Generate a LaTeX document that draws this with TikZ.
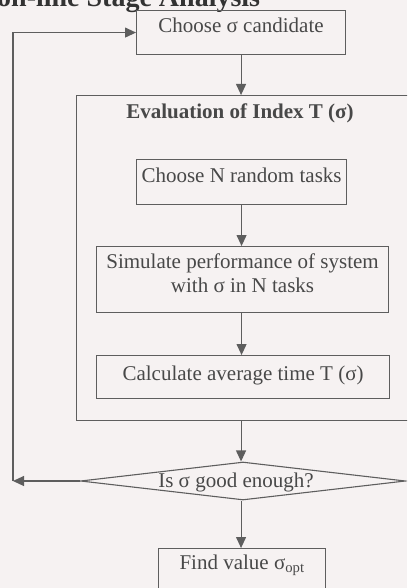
\documentclass[tikz,border=0pt]{standalone}
\usepackage{fontspec}
\setmainfont{Liberation Serif}
\usetikzlibrary{shapes.geometric,arrows.meta}
\definecolor{bg}{HTML}{F6F2F2}
\definecolor{ln}{HTML}{5E5E5E}
\definecolor{tx}{HTML}{484848}
\begin{document}
\begin{tikzpicture}[x=1pt,y=-1pt,
  box/.style={draw=ln, line width=1.1pt, text=tx, inner xsep=0pt, inner ysep=0pt,
    font=\fontsize{21}{24}\selectfont, align=center, anchor=north west},
  lbl/.style={text=tx, font=\fontsize{21}{24}\selectfont, inner sep=0pt},
  arr/.style={-{Triangle[length=11pt,width=10pt]}, draw=ln, line width=1.1pt}]
\useasboundingbox (0,0) rectangle (407,588);
\clip (0,0) rectangle (407,588);
\fill[bg] (0,0) rectangle (407,588);
% heading (cut off at the top, as in the scan)
\node[anchor=base west, inner sep=0pt, text=black!80,
  font=\bfseries\fontsize{28}{28}\selectfont] (head) at (-3,7) {on-line Stage Analysis};
% boxes
\node[box, minimum width=209pt, text height=22pt, text depth=22pt] (cand) at (136,10) {Choose σ candidate};
\node[box, minimum width=370pt, minimum height=325pt] (eval) at (76,95) {};
\node[lbl, font=\bfseries\fontsize{21}{24}\selectfont] (evt) at (240,113) {Evaluation of Index T (σ)};
\node[box, minimum width=210pt, text height=23pt, text depth=22pt] (rand) at (136,159) {Choose N random tasks};
\node[box, minimum width=292pt, text height=46pt, text depth=20pt] (sim) at (96,246) {Simulate performance of system\\with σ in N tasks};
\node[box, minimum width=293pt, text height=25pt, text depth=18pt] (calc) at (96,355) {Calculate average time T (σ)};
\node[draw=ln, line width=1.1pt, diamond, aspect=9, minimum width=325pt, minimum height=38pt, inner sep=0pt] (good) at (243,481) {};
\node[lbl] (goodt) at (236,482) {Is σ good enough?};
\node[box, minimum width=167pt, text height=21pt, text depth=39pt] (find) at (158,548) {Find value σ\textsubscript{opt}};
\coordinate (lc) at (13,481);
% connectors
\draw[arr] (cand.south) -- (cand.south |- eval.north);
\draw[arr] (rand.south) -- (rand.south |- sim.north);
\draw[arr] (rand.south |- sim.south) -- (rand.south |- calc.north);
\draw[arr] (cand.south |- eval.south) -- (cand.south |- good.north);
\draw[arr] (cand.south |- good.south) -- (cand.south |- find.north);
\draw[arr] (good.west) -- (lc);
\draw[arr] (lc) |- (cand.west);
\end{tikzpicture}
\end{document}
